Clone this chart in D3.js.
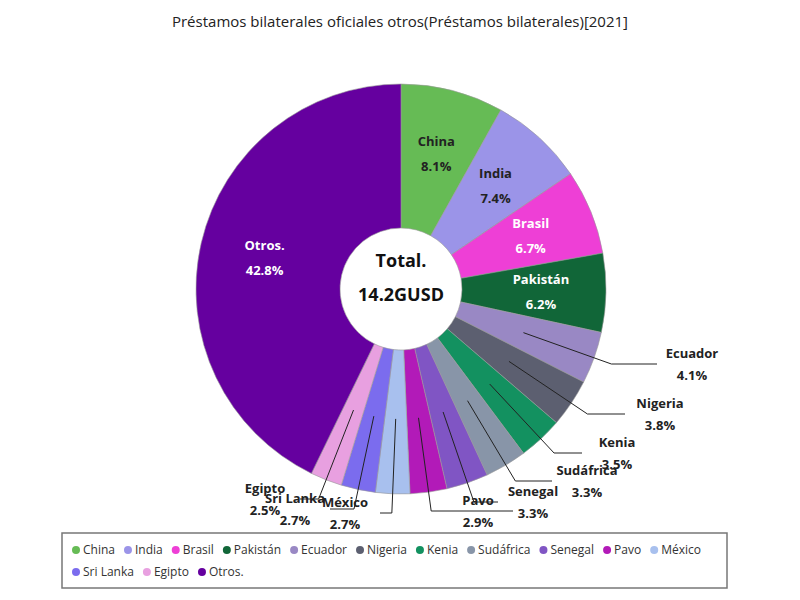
<!DOCTYPE html><html><head><meta charset="utf-8"><script src="https://cdn.jsdelivr.net/npm/d3@7"></script>
<style>body{margin:0;background:#fff}text{font-family:"Open Sans",sans-serif}</style></head><body><svg width="800" height="600"></svg><script>
const categories=["China","India","Brasil","Pakistán","Ecuador","Nigeria","Kenia","Sudáfrica","Senegal","Pavo","México","Sri Lanka","Egipto","Otros."];
const values=[8.1,7.4,6.7,6.2,4.1,3.8,3.5,3.3,3.3,2.9,2.7,2.7,2.5,42.8];
const colors=["#66bb55","#9b94e8","#ee3fd6","#116638","#9988c4","#5c5f70","#139160","#8895a8","#8055c4","#b21ab8","#a8c0ee","#7b6cee","#e8a0e0","#65009f"];
const inside=["China","India","Brasil","Pakistán","Otros."];
const whiteTxt=["Brasil","Pakistán","Otros."];
// layout: outside label centres (page px)
const labelPos={"Ecuador":[692,364],"Nigeria":[660,414],"Kenia":[617,453],"Sudáfrica":[587,481],"Senegal":[533,502],"Pavo":[478,511],"México":[345,513],"Sri Lanka":[295,509],"Egipto":[265,499]};
const svg=d3.select("svg");
svg.append("text").attr("x",400).attr("y",27).attr("text-anchor","middle").attr("font-size",15).attr("fill","#222").text("Préstamos bilaterales oficiales otros(Préstamos bilaterales)[2021]");
const cx=401,cy=289,R=205,r0=61;
const pie=d3.pie().sort(null).value(d=>d)(values);
const arc=d3.arc().innerRadius(r0).outerRadius(R);
const g=svg.append("g").attr("transform",`translate(${cx},${cy})`);
g.selectAll("path").data(pie).join("path").attr("d",arc).attr("fill",(d,i)=>colors[i]).attr("stroke","#999").attr("stroke-width",0.6);
g.append("text").attr("y",-22).attr("text-anchor","middle").attr("font-size",18).attr("font-weight","bold").attr("fill","#111").text("Total.");
g.append("text").attr("y",12).attr("text-anchor","middle").attr("font-size",18).attr("font-weight","bold").attr("fill","#111").text("14.2GUSD");
const lines=g.append("g"), labs=g.append("g");
pie.forEach((d,i)=>{
 const a=(d.startAngle+d.endAngle)/2, s=Math.sin(a), c=-Math.cos(a);
 const name=categories[i], pct=values[i].toFixed(1)+"%";
 if(inside.includes(name)){
  const col=whiteTxt.includes(name)?"#fff":"#222";
  const x=140*s,y=140*c;
  labs.append("text").attr("x",x).attr("y",y-8).attr("text-anchor","middle").attr("font-size",13).attr("font-weight","bold").attr("fill",col).text(name);
  labs.append("text").attr("x",x).attr("y",y+17).attr("text-anchor","middle").attr("font-size",13).attr("font-weight","bold").attr("fill",col).text(pct);
 } else {
  const [px,py]=labelPos[name]; const lx=px-cx, ly=py-cy;
  const r1=130, p1=[r1*s,r1*c];
  const rr=ly/c; const p2=[rr*s,ly];
  const dir=s>0.3?1:-1;
  const p3=[lx-dir*35,ly];
  lines.append("polyline").attr("points",[p1,p2,p3].map(p=>p.join(",")).join(" ")).attr("fill","none").attr("stroke","#222").attr("stroke-width",1);
  labs.append("text").attr("x",lx).attr("y",ly-6).attr("text-anchor","middle").attr("font-size",13).attr("font-weight","bold").attr("fill","#222").text(name);
  labs.append("text").attr("x",lx).attr("y",ly+16).attr("text-anchor","middle").attr("font-size",13).attr("font-weight","bold").attr("fill","#222").text(pct);
 }
});
svg.append("rect").attr("x",62).attr("y",533).attr("width",665).attr("height",55).attr("fill","#fff").attr("stroke","#777").attr("stroke-width",1.5);
let x=72,y=551;
categories.forEach((n,i)=>{
 const w=14+n.length*6.6+12;
 if(x+w>722){x=72;y+=22;}
 svg.append("circle").attr("cx",x+4).attr("cy",y-1).attr("r",4).attr("fill",colors[i]);
 const t=svg.append("text").attr("x",x+11).attr("y",y+3).attr("font-size",12).attr("fill","#333").text(n);
 x+=11+t.node().getComputedTextLength()+9;
});
</script></body></html>
